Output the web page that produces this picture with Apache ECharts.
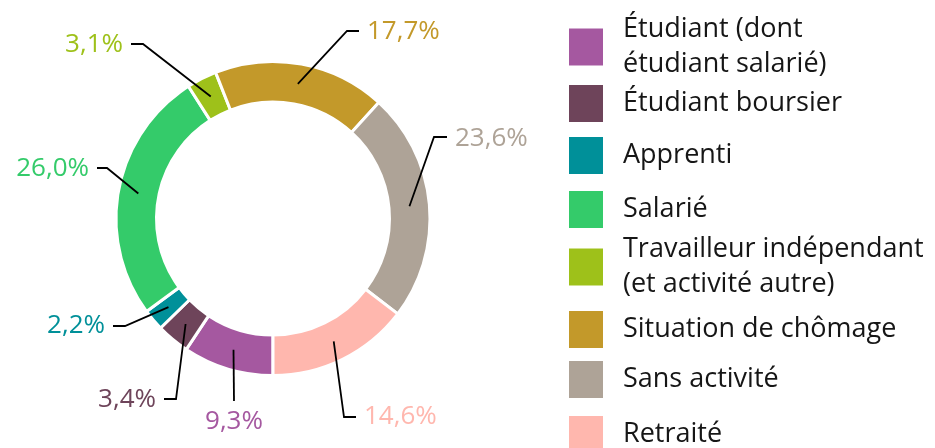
<!DOCTYPE html>
<html>
<head>
<meta charset="utf-8">
<script src="https://cdn.jsdelivr.net/npm/echarts@6/dist/echarts.min.js"></script>
<style>
html, body { margin: 0; padding: 0; background: #fff; }
#chart { width: 935px; height: 448px; }
</style>
</head>
<body>
<div id="chart"></div>
<script>
var categories = ['Étudiant (dont\nétudiant salarié)', 'Étudiant boursier', 'Apprenti', 'Salarié',
    'Travailleur indépendant\n(et activité autre)', 'Situation de chômage', 'Sans activité', 'Retraité'];
var shares = [9.3, 3.4, 2.2, 26.0, 3.1, 17.7, 23.6, 14.6];
var colors = ['#A558A0', '#6E445A', '#009099', '#34CB6A', '#9EC11A', '#C3992A', '#AEA397', '#FFB7AE'];

// leader line elbow / end and where the text sits, one per slice
var labelSpots = [
    { elbow: [234, 401], end: [234, 401], text: [234, 422], align: 'center' },
    { elbow: [176, 399], end: [164, 399], text: [156, 400], align: 'right' },
    { elbow: [125, 326], end: [113, 326], text: [105, 326], align: 'right' },
    { elbow: [107, 168], end: [97, 168], text: [89, 169], align: 'right' },
    { elbow: [143, 44], end: [131, 44], text: [123, 45], align: 'right' },
    { elbow: [347, 31], end: [359, 31], text: [367, 32], align: 'left' },
    { elbow: [434, 137], end: [447, 137], text: [455, 139], align: 'left' },
    { elbow: [344, 417], end: [356, 417], text: [364, 417], align: 'left' }
];
// top of each legend row
var legendTops = [12, 83, 135, 189, 232, 309, 359, 414];

var FONT = '"Open Sans", sans-serif';
var cx = 273, cy = 218.5, midR = 137, outR = 157, startAngle = 270;

// middle of each slice, halfway across the ring (where the leader line begins)
var total = shares.reduce(function (a, b) { return a + b; }, 0);
var acc = 0;
var lineStarts = shares.map(function (v) {
    var a = (startAngle - (acc + v / 2) / total * 360) * Math.PI / 180;
    acc += v;
    return [cx + midR * Math.cos(a), cy - midR * Math.sin(a)];
});

var chart = echarts.init(document.getElementById('chart'));

var legends = categories.map(function (name, i) {
    return {
        data: [name],
        orient: 'vertical',
        left: 567,
        top: legendTops[i],
        padding: 0,
        icon: 'rect',
        itemWidth: 36,
        itemHeight: 39,
        selectedMode: false,
        textStyle: {
            fontFamily: FONT,
            fontSize: 27,
            lineHeight: 35,
            color: '#161616',
            padding: [0, 0, 0, 14]
        }
    };
});

var pieData = categories.map(function (name, i) {
    return {
        name: name,
        value: shares[i],
        itemStyle: { color: colors[i] },
        label: { color: colors[i] }
    };
});

chart.setOption({
    animation: false,
    legend: legends,
    series: [{
        type: 'pie',
        center: [cx, cy],
        radius: [116.5, outR],
        startAngle: startAngle,
        clockwise: true,
        avoidLabelOverlap: false,
        emphasis: { disabled: true },
        itemStyle: {
            borderColor: '#fff',
            borderWidth: 3
        },
        label: {
            show: true,
            position: 'outside',
            fontFamily: FONT,
            fontSize: 26,
            formatter: function (p) {
                return p.value.toFixed(1).replace('.', ',') + '%';
            }
        },
        labelLine: { show: false },
        labelLayout: function (params) {
            var s = labelSpots[params.dataIndex];
            return {
                x: s.text[0],
                y: s.text[1],
                align: s.align,
                verticalAlign: 'middle'
            };
        },
        data: pieData
    }, {
        // leader lines, drawn over the ring
        type: 'custom',
        coordinateSystem: 'none',
        silent: true,
        z: 5,
        data: shares,
        renderItem: function (params) {
            var i = params.dataIndex;
            var s = labelSpots[i];
            return {
                type: 'polyline',
                shape: { points: [lineStarts[i], s.elbow, s.end] },
                style: { stroke: '#000', lineWidth: 1.8, fill: null }
            };
        }
    }]
});
</script>
</body>
</html>
